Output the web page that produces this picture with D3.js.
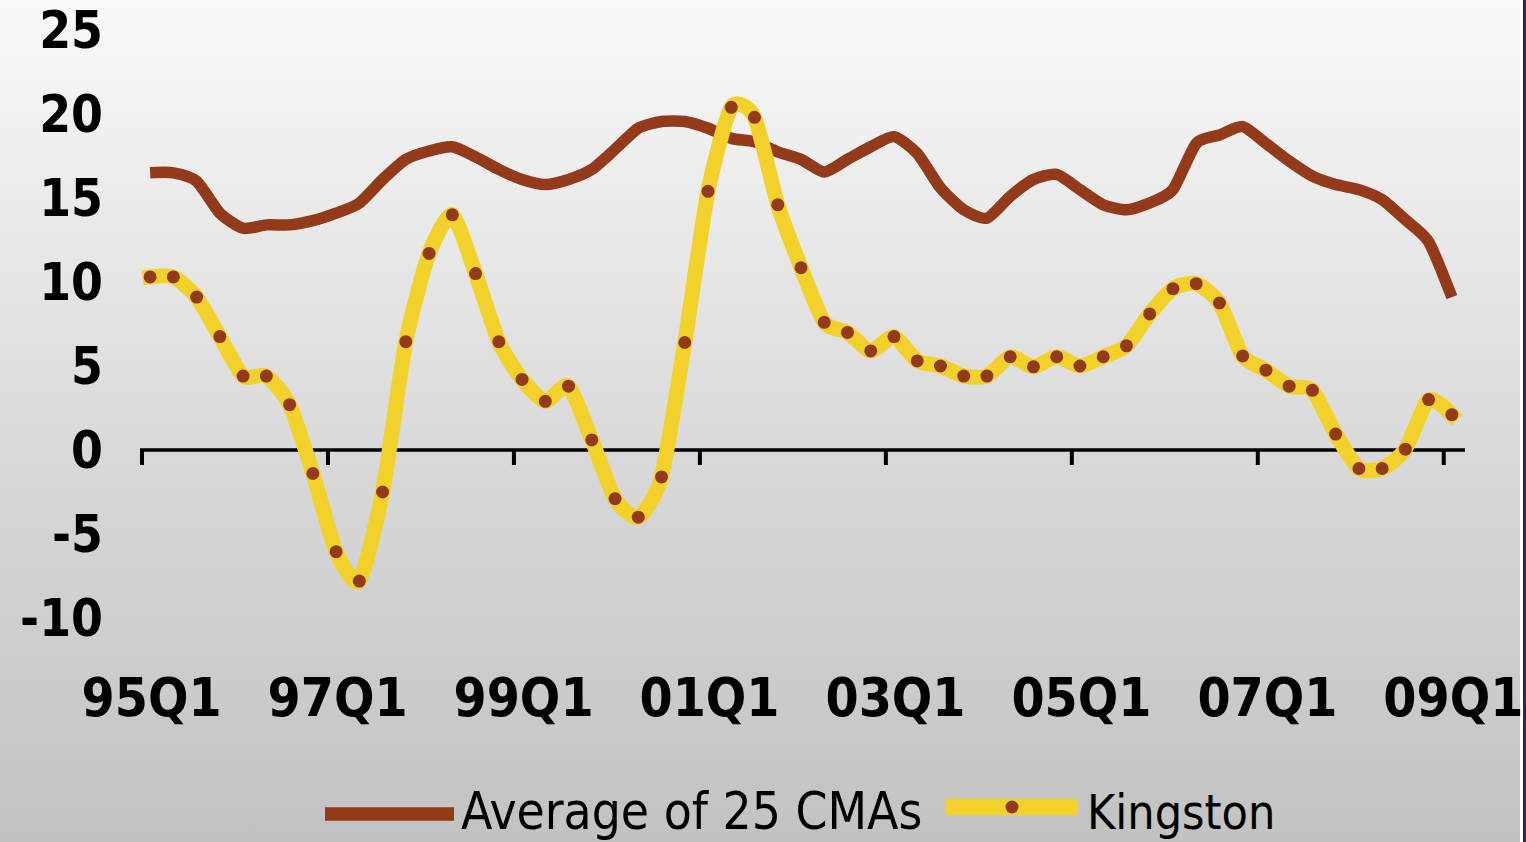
<!DOCTYPE html>
<html>
<head>
<meta charset="utf-8">
<script src="https://cdn.jsdelivr.net/npm/d3@7"></script>
<style>
  html, body { margin: 0; padding: 0; background: #fff; }
  svg { display: block; }
  .lbl { font-family: 'DejaVu Sans Condensed', 'DejaVu Sans', sans-serif; font-stretch: condensed; }
</style>
</head>
<body>
<svg id="chart" width="1526" height="842"></svg>
<script>
// Quarterly categories, 1995Q1 through 2009Q1
const quarters = [
  "95Q1","95Q2","95Q3","95Q4","96Q1","96Q2","96Q3","96Q4",
  "97Q1","97Q2","97Q3","97Q4","98Q1","98Q2","98Q3","98Q4",
  "99Q1","99Q2","99Q3","99Q4","00Q1","00Q2","00Q3","00Q4",
  "01Q1","01Q2","01Q3","01Q4","02Q1","02Q2","02Q3","02Q4",
  "03Q1","03Q2","03Q3","03Q4","04Q1","04Q2","04Q3","04Q4",
  "05Q1","05Q2","05Q3","05Q4","06Q1","06Q2","06Q3","06Q4",
  "07Q1","07Q2","07Q3","07Q4","08Q1","08Q2","08Q3","08Q4",
  "09Q1"
];

// Average of 25 CMAs
const averageCMAs = [
  16.5, 16.5, 16.0, 14.1, 13.2, 13.4, 13.4, 13.65, 14.1, 14.7,
  16.1, 17.3, 17.8, 18.05, 17.45, 16.7, 16.1, 15.8, 16.1, 16.7,
  17.9, 19.15, 19.55, 19.55, 19.15, 18.55, 18.35, 17.75, 17.3, 16.55,
  17.3, 18.05, 18.65, 17.65, 15.6, 14.3, 13.8, 15.1, 16.1, 16.4,
  15.5, 14.6, 14.3, 14.7, 15.5, 18.25, 18.75, 19.25, 18.25, 17.2,
  16.3, 15.8, 15.5, 14.9, 13.7, 12.4, 9.1
];

// Kingston
const kingston = [
  10.3, 10.3, 9.1, 6.75, 4.4, 4.4, 2.7, -1.4, -6.05, -7.8,
  -2.5, 6.45, 11.7, 14.0, 10.5, 6.45, 4.2, 2.9, 3.8, 0.6,
  -2.9, -4.0, -1.6, 6.4, 15.4, 20.4, 19.8, 14.6, 10.85, 7.6,
  7.0, 5.9, 6.75, 5.3, 5.0, 4.4, 4.4, 5.55, 4.95, 5.55,
  5.0, 5.55, 6.2, 8.1, 9.6, 9.9, 8.75, 5.6, 4.75, 3.8,
  3.55, 0.95, -1.1, -1.1, 0.05, 3.0, 2.1
];

const xTickLabels = ["95Q1","97Q1","99Q1","01Q1","03Q1","05Q1","07Q1","09Q1"];
const yTicks = [-10, -5, 0, 5, 10, 15, 20, 25];
const seriesNames = ["Average of 25 CMAs", "Kingston"];

const W = 1526, H = 842;
const svg = d3.select("#chart");

// background: vertical grey gradient
const defs = svg.append("defs");
const grad = defs.append("linearGradient")
  .attr("id", "bg").attr("x1", 0).attr("y1", 0).attr("x2", 0).attr("y2", 1);
grad.append("stop").attr("offset", "0%").attr("stop-color", "#f9f9f9");
grad.append("stop").attr("offset", "55%").attr("stop-color", "#d8d8d8");
grad.append("stop").attr("offset", "100%").attr("stop-color", "#c2c2c2");
svg.append("rect").attr("width", W).attr("height", H).attr("fill", "url(#bg)");

// frame on the right edge
svg.append("rect").attr("x", 1520).attr("y", 0).attr("width", 3).attr("height", H).attr("fill", "#ffffff");
svg.append("rect").attr("x", 1523).attr("y", 0).attr("width", 3).attr("height", H).attr("fill", "#1b2a60");

const x = d3.scaleBand().domain(quarters).range([140, 1465]).paddingInner(0).paddingOuter(0);
const y = d3.scaleLinear().domain([-10, 25]).range([618, 30]);
const cx = q => x(q) + x.bandwidth() / 2 - 1.5;

// y tick labels
svg.append("g").selectAll("text").data(yTicks).join("text")
  .attr("class", "lbl")
  .attr("x", 103).attr("y", d => y(d) + 4)
  .attr("text-anchor", "end").attr("dominant-baseline", "middle")
  .attr("font-size", 51).attr("font-weight", "bold").attr("fill", "#000")
  .text(d => d);

// category axis along zero
const xAxis = d3.axisBottom(x)
  .tickValues(xTickLabels)
  .tickSize(0)
  .tickFormat(d => d);
const gx = svg.append("g").attr("transform", `translate(0,${y(0)})`).call(xAxis);
gx.select(".domain").remove();
gx.selectAll(".tick line").remove();
gx.selectAll(".tick text")
  .attr("class", "lbl")
  .attr("y", 0).attr("dy", 0)
  .attr("transform", `translate(0,${716 - y(0)})`)
  .attr("font-size", 53).attr("font-weight", "bold").attr("fill", "#000");

// axis line and tick marks at category boundaries
svg.append("line")
  .attr("x1", x.range()[0]).attr("x2", x.range()[1])
  .attr("y1", y(0)).attr("y2", y(0))
  .attr("stroke", "#000").attr("stroke-width", 3.5);
svg.append("g").selectAll("line").data(xTickLabels).join("line")
  .attr("x1", d => x(d) + 2).attr("x2", d => x(d) + 2)
  .attr("y1", y(0)).attr("y2", y(0) + 15)
  .attr("stroke", "#000").attr("stroke-width", 4);

// lines
const curve = d3.curveCardinal.tension(0.35);
const line = d3.line().x((d, i) => cx(quarters[i])).y(d => y(d)).curve(curve);

svg.append("path").datum(averageCMAs)
  .attr("d", line).attr("fill", "none")
  .attr("stroke", "#933a1b").attr("stroke-width", 11.5)
  .attr("stroke-linejoin", "round");

svg.append("path").datum(kingston)
  .attr("d", line).attr("fill", "none")
  .attr("stroke", "#f2d12a").attr("stroke-width", 15)
  .attr("stroke-linejoin", "round").attr("stroke-linecap", "square");

svg.append("g").selectAll("circle").data(kingston).join("circle")
  .attr("cx", (d, i) => cx(quarters[i])).attr("cy", d => y(d))
  .attr("r", 6.5).attr("fill", "#933a1b");

// legend
const lg = svg.append("g");
lg.append("line").attr("x1", 325).attr("x2", 454).attr("y1", 814).attr("y2", 814)
  .attr("stroke", "#933a1b").attr("stroke-width", 13.5);
lg.append("text").attr("class", "lbl").attr("x", 461).attr("y", 829)
  .attr("font-size", 51).attr("fill", "#000").text(seriesNames[0]);
lg.append("line").attr("x1", 945).attr("x2", 1078).attr("y1", 807).attr("y2", 807)
  .attr("stroke", "#f2d12a").attr("stroke-width", 16.5);
lg.append("circle").attr("cx", 1012).attr("cy", 807).attr("r", 6.5).attr("fill", "#933a1b");
lg.append("text").attr("class", "lbl").attr("x", 1087).attr("y", 829)
  .attr("font-size", 48).attr("fill", "#000").text(seriesNames[1]);
</script>
</body>
</html>
